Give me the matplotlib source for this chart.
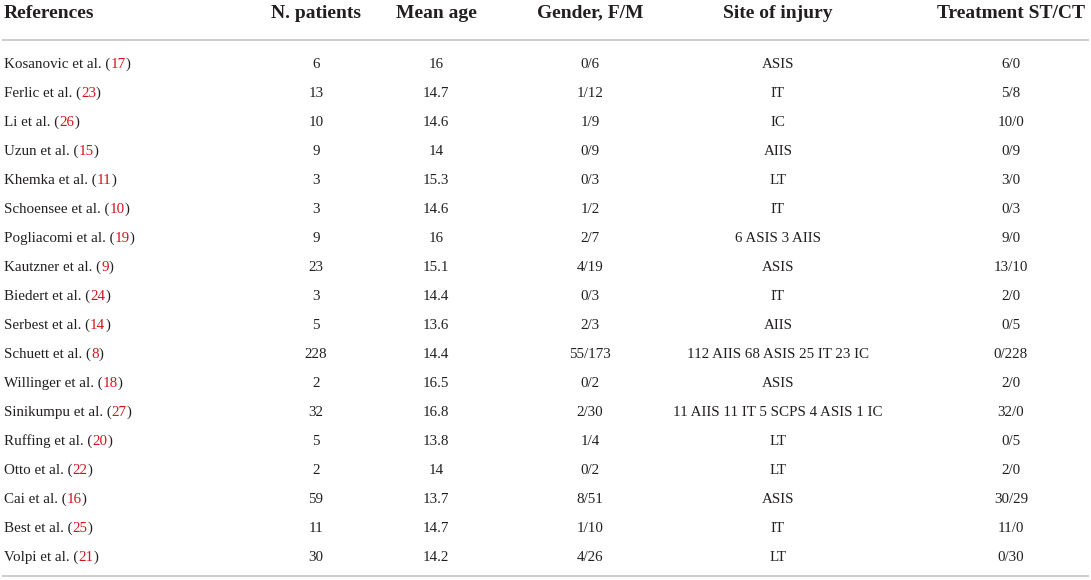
import matplotlib
matplotlib.use("Agg")
import matplotlib.pyplot as plt

headers = ["References", "N. patients", "Mean age", "Gender, F/M", "Site of injury", "Treatment ST/CT"]
authors = ["Kosanovic", "Ferlic", "Li", "Uzun", "Khemka", "Schoensee", "Pogliacomi", "Kautzner",
           "Biedert", "Serbest", "Schuett", "Willinger", "Sinikumpu", "Ruffing", "Otto", "Cai",
           "Best", "Volpi"]
ref_nums = ["17", "23", "26", "15", "11", "10", "19", "9", "24", "14", "8", "18", "27", "20",
            "22", "16", "25", "21"]
n_patients = ["6", "13", "10", "9", "3", "3", "9", "23", "3", "5", "228", "2", "32", "5", "2",
              "59", "11", "30"]
mean_age = ["16", "14.7", "14.6", "14", "15.3", "14.6", "16", "15.1", "14.4", "13.6", "14.4",
            "16.5", "16.8", "13.8", "14", "13.7", "14.7", "14.2"]
gender = ["0/6", "1/12", "1/9", "0/9", "0/3", "1/2", "2/7", "4/19", "0/3", "2/3", "55/173",
          "0/2", "2/30", "1/4", "0/2", "8/51", "1/10", "4/26"]
site = ["ASIS", "IT", "IC", "AIIS", "LT", "IT", "6 ASIS 3 AIIS", "ASIS", "IT", "AIIS",
        "112 AIIS 68 ASIS 25 IT 23 IC", "ASIS", "11 AIIS 11 IT 5 SCPS 4 ASIS 1 IC", "LT", "LT",
        "ASIS", "IT", "LT"]
treatment = ["6/0", "5/8", "10/0", "0/9", "3/0", "0/3", "9/0", "13/10", "2/0", "0/5", "0/228",
             "2/0", "32/0", "0/5", "2/0", "30/29", "11/0", "0/30"]

W, H = 1091, 580
fig = plt.figure(figsize=(W / 100, H / 100), dpi=100)
ax = fig.add_axes([0, 0, 1, 1])
ax.set_xlim(0, W)
ax.set_ylim(H, 0)
ax.axis("off")

FONT = ["Liberation Serif", "DejaVu Serif"]
TXT = "#231f20"
RED = "#d0141b"
LINE = "#c8c8c8"
fs_body = 10.8
fs_head = 14

col_x = [4, 316, 436, 590, 778, 1011]
head_y = 13
first_y = 64
row_h = 29.0

for i, h in enumerate(headers):
    ax.text(col_x[i], head_y, h, ha="left" if i == 0 else "center", va="center",
            fontsize=fs_head, fontweight="bold", family=FONT, color=TXT)

ax.plot([2, W - 2], [40, 40], color=LINE, lw=1.3, solid_capstyle="butt")
ax.plot([2, W - 2], [576, 576], color=LINE, lw=1.3, solid_capstyle="butt")

fig.canvas.draw()
renderer = fig.canvas.get_renderer()
probe = ax.text(0, 0, "", fontsize=fs_body, family=FONT)
fprop = probe.get_fontproperties()
probe.remove()


def text_w(s):
    w, h, d = renderer.get_text_width_height_descent(s, fprop, ismath=False)
    return w * 72.0 / fig.dpi if False else w


cols = [n_patients, mean_age, gender, site, treatment]
for r in range(len(authors)):
    y = first_y + r * row_h + 4
    x0 = col_x[0]
    pre = authors[r] + " et al. ("
    ax.text(x0, y, pre, ha="left", va="baseline", fontsize=fs_body, family=FONT, color=TXT)
    ax.text(x0 + text_w(pre), y, ref_nums[r], ha="left", va="baseline", fontsize=fs_body,
            family=FONT, color=RED)
    ax.text(x0 + text_w(pre + ref_nums[r]), y, ")", ha="left", va="baseline",
            fontsize=fs_body, family=FONT, color=TXT)
    for ci, col in enumerate(cols):
        ax.text(col_x[ci + 1], y, col[r], ha="center", va="baseline", fontsize=fs_body,
                family=FONT, color=TXT)

fig.savefig("out.png", dpi=100)
